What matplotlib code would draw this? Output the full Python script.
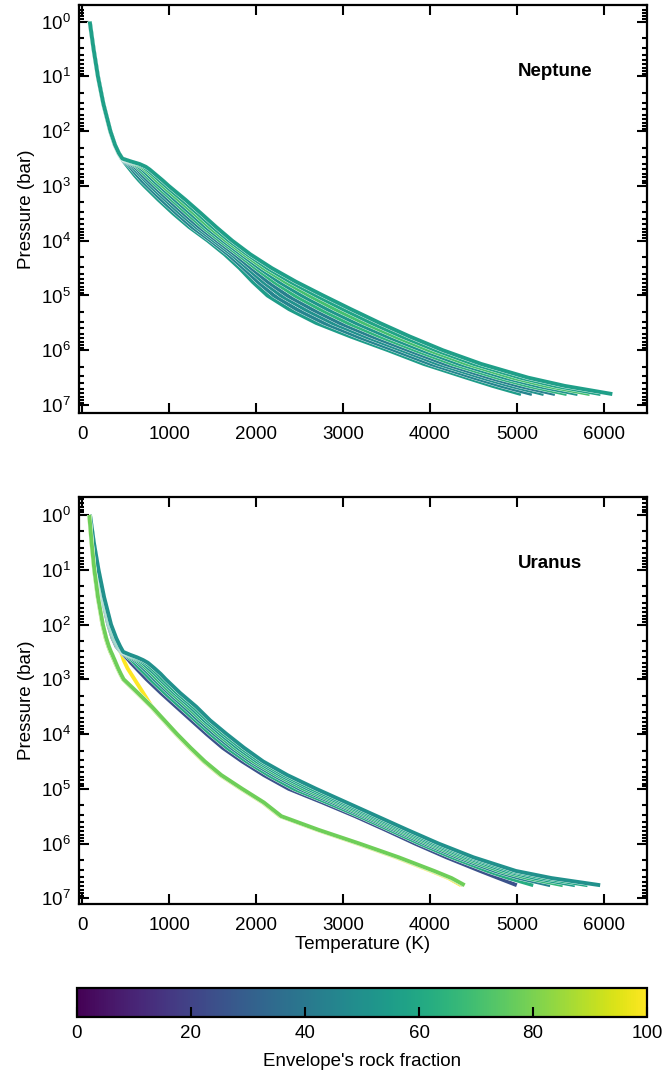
import matplotlib
matplotlib.use("Agg")
import matplotlib.pyplot as plt
import matplotlib.patheffects as pe
import numpy as np
from matplotlib.ticker import FixedLocator, NullFormatter, MultipleLocator, LogFormatterSciNotation
from matplotlib.colors import Normalize
from matplotlib.cm import ScalarMappable

plt.rcParams['font.family'] = ['Liberation Sans', 'DejaVu Sans']
plt.rcParams['mathtext.default'] = 'regular'

# log10 of pressure (bar) where the profiles are tabulated
logp_nep = [0, 0.5, 1, 1.5, 2, 2.25, 2.4, 2.5, 2.55, 2.6, 2.65, 2.7, 2.8, 2.9, 3,
            3.25, 3.5, 3.75, 4, 4.25, 4.5, 4.75, 5, 5.25, 5.5, 5.75, 6, 6.25,
            6.5, 6.65, 6.8]
logp_ura = [0, 0.5, 1, 1.5, 2, 2.25, 2.4, 2.5, 2.55, 2.6, 2.65, 2.7, 2.8, 2.9, 3,
            3.25, 3.5, 3.75, 4, 4.25, 4.5, 4.75, 5, 5.25, 5.5, 5.75, 6, 6.25,
            6.5, 6.63, 6.76]

# Neptune temperature profiles (K)
nep_1 = [83, 127, 177, 239, 319, 371, 414, 450, 475, 500, 525, 550, 600, 655, 715,
         875, 1045, 1230, 1445, 1640, 1810, 1960, 2130, 2380, 2690, 3090, 3520,
         3930, 4420, 4720, 5050]
nep_2 = [84, 128, 178, 240, 320, 372, 415, 450, 485, 520, 550, 575, 630, 685, 750,
         910, 1085, 1265, 1480, 1680, 1855, 2020, 2205, 2465, 2780, 3170, 3595,
         4010, 4505, 4820, 5175]
nep_3 = [83, 128, 179, 241, 321, 373, 416, 455, 495, 540, 575, 605, 665, 725, 785,
         955, 1125, 1310, 1515, 1720, 1900, 2080, 2285, 2560, 2875, 3260, 3680,
         4095, 4600, 4930, 5310]
nep_4 = [85, 129, 179, 241, 320, 372, 416, 455, 505, 560, 600, 635, 690, 755, 820,
         990, 1165, 1345, 1550, 1755, 1945, 2135, 2360, 2645, 2960, 3340, 3755,
         4175, 4685, 5025, 5440]
nep_5 = [84, 128, 178, 240, 321, 373, 417, 455, 515, 580, 630, 660, 725, 790, 855,
         1030, 1205, 1385, 1585, 1795, 1995, 2205, 2445, 2735, 3055, 3430, 3835,
         4260, 4775, 5135, 5575]
nep_6 = [85, 129, 180, 242, 322, 374, 417, 455, 525, 600, 650, 690, 755, 820, 890,
         1065, 1245, 1420, 1620, 1830, 2040, 2265, 2525, 2820, 3145, 3510, 3910,
         4340, 4860, 5235, 5700]
nep_7 = [84, 128, 179, 241, 321, 373, 418, 455, 535, 620, 680, 720, 790, 855, 925,
         1105, 1285, 1460, 1655, 1865, 2085, 2335, 2610, 2910, 3240, 3600, 3990,
         4425, 4950, 5340, 5840]
nep_8 = [86, 130, 180, 242, 322, 375, 418, 460, 545, 640, 705, 745, 820, 890, 960,
         1145, 1325, 1500, 1690, 1900, 2130, 2395, 2690, 3000, 3325, 3680, 4070,
         4505, 5040, 5440, 5965]
nep_9 = [85, 129, 179, 242, 323, 376, 420, 460, 555, 660, 730, 775, 850, 925, 995,
         1185, 1365, 1540, 1725, 1935, 2180, 2460, 2770, 3090, 3420, 3770, 4150,
         4590, 5130, 5550, 6100]
nep_rock = [55, 45, 50, 43, 65, 52, 70, 58, 56]

# Uranus temperature profiles (K)
ura_y = [84, 122, 168, 225, 298, 348, 392, 440, 455, 465, 475, 490, 520, 560, 600,
         700, 800, 940, 1080, 1232, 1395, 1585, 1825, 2075, 2275, 2700, 3165,
         3610, 4015, 4215, 4360]
ura_1 = [84, 122, 168, 225, 298, 348, 392, 445, 475, 505, 535, 560, 620, 680, 740,
         905, 1080, 1255, 1430, 1615, 1840, 2090, 2375, 2765, 3140, 3490, 3830,
         4190, 4580, 4790, 5000]
ura_2 = [85, 124, 172, 230, 304, 356, 401, 450, 490, 530, 570, 600, 660, 725, 785,
         950, 1125, 1300, 1475, 1665, 1890, 2145, 2435, 2820, 3190, 3540, 3885,
         4255, 4665, 4910, 5190]
ura_3 = [86, 126, 175, 235, 311, 365, 409, 455, 505, 555, 600, 640, 705, 770, 830,
         995, 1170, 1340, 1520, 1715, 1935, 2200, 2500, 2880, 3240, 3590, 3940,
         4320, 4750, 5035, 5385]
ura_4 = [86, 127, 178, 239, 316, 371, 416, 460, 515, 575, 625, 665, 735, 800, 860,
         1025, 1205, 1375, 1555, 1750, 1970, 2240, 2545, 2920, 3275, 3625, 3980,
         4365, 4810, 5125, 5530]
ura_5 = [87, 129, 181, 243, 320, 377, 422, 465, 525, 595, 650, 695, 765, 835, 895,
         1060, 1240, 1405, 1590, 1785, 2010, 2280, 2595, 2960, 3315, 3665, 4020,
         4415, 4875, 5215, 5670]
ura_6 = [87, 130, 183, 246, 325, 384, 428, 465, 535, 610, 675, 725, 800, 865, 925,
         1090, 1275, 1440, 1625, 1825, 2045, 2320, 2640, 3000, 3350, 3700, 4060,
         4460, 4935, 5310, 5815]
ura_7 = [88, 132, 186, 250, 330, 390, 435, 470, 545, 630, 700, 755, 830, 900, 960,
         1125, 1310, 1470, 1660, 1860, 2080, 2360, 2690, 3040, 3390, 3740, 4100,
         4500, 4990, 5400, 5960]
ura_l = [78, 104, 135, 176, 230, 268, 298, 322, 337, 350, 364, 377, 405, 435, 468,
         630, 790, 935, 1080, 1235, 1400, 1590, 1830, 2080, 2280, 2710, 3175,
         3625, 4035, 4235, 4385]
ura_g = [80, 106, 138, 180, 236, 275, 305, 330, 345, 358, 372, 385, 412, 442, 475,
         640, 800, 945, 1090, 1245, 1410, 1600, 1840, 2090, 2290, 2720, 3190,
         3640, 4050, 4250, 4400]
ura_rock = [100, 25, 62, 45, 66, 55, 60, 50, 85, 78]

cmap = plt.get_cmap('viridis')
norm = Normalize(0, 100)

# only ticks that fall inside the pressure range
major_p = [10.0 ** k for k in range(8)]
minor_p = [m * 10.0 ** k for k in range(-1, 8) for m in range(2, 10)]


def panel(ax, logp, profiles, rocks, name, ylim):
    p = 10.0 ** np.array(logp)
    for T, r in zip(profiles, rocks):
        ax.plot(T, p, color=cmap(norm(r)), lw=2.8, solid_capstyle='butt',
                solid_joinstyle='round',
                path_effects=[pe.Stroke(linewidth=3.3, foreground='white'),
                              pe.Normal()])
    ax.set_yscale('log')
    ax.set_ylim(ylim)
    ax.set_xlim(-40, 6500)
    ax.xaxis.set_major_locator(MultipleLocator(1000))
    lo, hi = min(ylim), max(ylim)
    ax.yaxis.set_major_locator(FixedLocator(major_p))
    ax.yaxis.set_major_formatter(LogFormatterSciNotation())
    ax.yaxis.set_minor_locator(FixedLocator([v for v in minor_p if lo <= v <= hi]))
    ax.yaxis.set_minor_formatter(NullFormatter())
    ax.tick_params(which='both', direction='in', top=True, right=True,
                   width=1.5, labelsize=13.5, pad=6)
    ax.tick_params(axis='x', pad=9)
    ax.tick_params(which='major', length=7)
    ax.tick_params(which='minor', length=3.5)
    for s in ax.spines.values():
        s.set_linewidth(1.6)
    ax.set_ylabel('Pressure (bar)', fontsize=13.5, labelpad=4)
    ax.text(0.773, 0.836, name, transform=ax.transAxes, fontsize=13.5,
            fontweight='bold', va='center', ha='left')


fig = plt.figure(figsize=(6.63, 10.77), dpi=100)
ax1 = fig.add_axes([0.119, 0.6165, 0.857, 0.3789])
ax2 = fig.add_axes([0.119, 0.1606, 0.857, 0.3779])
cax = fig.add_axes([0.116, 0.0557, 0.860, 0.0269])

panel(ax1, logp_nep,
      [nep_1, nep_2, nep_3, nep_4, nep_5, nep_6, nep_7, nep_8, nep_9],
      nep_rock, 'Neptune', (1.4e7, 0.495))
panel(ax2, logp_ura,
      [ura_y, ura_1, ura_2, ura_3, ura_4, ura_5, ura_6, ura_7, ura_l, ura_g],
      ura_rock, 'Uranus', (1.27e7, 0.47))
ax2.set_xlabel('Temperature (K)', fontsize=13.5, labelpad=2)

cb = fig.colorbar(ScalarMappable(norm=norm, cmap=cmap), cax=cax,
                  orientation='horizontal')
cb.set_ticks([0, 20, 40, 60, 80, 100])
cb.ax.tick_params(direction='in', length=7, width=1.5, labelsize=13.5, pad=6)
cb.outline.set_linewidth(1.6)
cb.set_label("Envelope's rock fraction", fontsize=13.5, labelpad=8)

fig.savefig('out.png', dpi=100)
